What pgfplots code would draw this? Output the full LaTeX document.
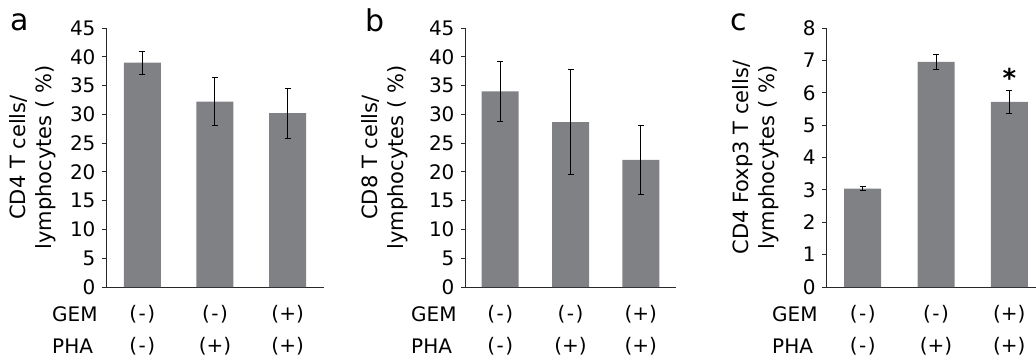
\documentclass[border=0pt]{standalone}
\usepackage{pgfplots}
\pgfplotsset{compat=1.18}
\usepackage{fontspec}
\setmainfont{DejaVu Sans}
\definecolor{barc}{RGB}{128,129,133}
\definecolor{axc}{RGB}{40,40,40}
\newcommand{\mn}{(\kern1.5pt-\kern1.5pt)}
\pgfplotsset{
  panel/.style={
    scale only axis, height=259pt,
    anchor=south west,
    xmin=-0.5, xmax=2.5, ymin=0,
    axis x line*=bottom, axis y line*=left,
    axis line style={axc, line width=0.9pt},
    xtick={0,1,2},
    xticklabels={{\mn\\\mn},{\mn\\(+)},{(+)\\(+)}},
    xtick style={draw=none},
    ytick style={axc, line width=0.9pt},
    major tick length=4pt,
    tick align=outside,
    /pgf/number format/assume math mode=true,
    yticklabel style={font=\fontsize{20}{24}\selectfont, xshift=-3pt},
    xticklabel style={align=center, font=\fontsize{20}{32}\selectfont, anchor=north, inner sep=0pt, yshift=-14pt},
    ylabel style={align=center, font=\fontsize{21}{26}\selectfont, anchor=center, at={(axis description cs:#1,0.5)}},
    clip=false,
  },
  bars/.style={ybar, bar width=37pt, fill=barc, draw=none,
    error bars/.cd, y dir=both, y explicit,
    error bar style={black, line width=1pt},
    error mark options={rotate=90, mark size=3pt, line width=1pt, black}},
}
\begin{document}
\begin{tikzpicture}[x=1pt,y=1pt]
\useasboundingbox (0,0) rectangle (1036,364);
% panel a
\begin{axis}[panel=-0.335, at={(106pt,77pt)}, width=218pt, ymax=45, ytick={0,5,...,45},
  ylabel={CD4 T cells/\\lymphocytes ( \%)}]
\addplot[bars] table[x=x, y=y, y error=e] {
x y e
0 39.0 2.0
1 32.2 4.2
2 30.2 4.35
};
\end{axis}
% panel b
\begin{axis}[panel=-0.38, at={(465pt,77pt)}, width=211pt, ymax=45, ytick={0,5,...,45},
  ylabel={CD8 T cells/\\lymphocytes ( \%)}]
\addplot[bars] table[x=x, y=y, y error=e] {
x y e
0 34.0 5.2
1 28.65 9.15
2 22.1 5.95
};
\end{axis}
% panel c
\begin{axis}[panel=-0.32, at={(826pt,77pt)}, width=220pt, ymax=8, ytick={0,1,...,8},
  ylabel={CD4 Foxp3 T cells/\\lymphocytes ( \%)}]
\addplot[bars] table[x=x, y=y, y error=e] {
x y e
0 3.04 0.07
1 6.95 0.24
2 5.72 0.36
};
\node[font=\bfseries\fontsize{26}{26}\selectfont, inner sep=0pt] at (axis cs:2,6.45) {*};
\end{axis}
% row labels and panel letters
\begin{scope}[font=\fontsize{20}{24}\selectfont]
\foreach \xx in {52,411,772}{
  \node[anchor=base west, inner sep=0pt] at (\xx,42.2) {GEM};
  \node[anchor=base west, inner sep=0pt] at (\xx,10.2) {PHA};
}
\end{scope}
\begin{scope}[font=\fontsize{30}{30}\selectfont]
\node[anchor=base west, inner sep=0pt] at (10,333) {a};
\node[anchor=base west, inner sep=0pt] at (365,332) {b};
\node[anchor=base west, inner sep=0pt] at (730,333) {c};
\end{scope}
\end{tikzpicture}
\end{document}
